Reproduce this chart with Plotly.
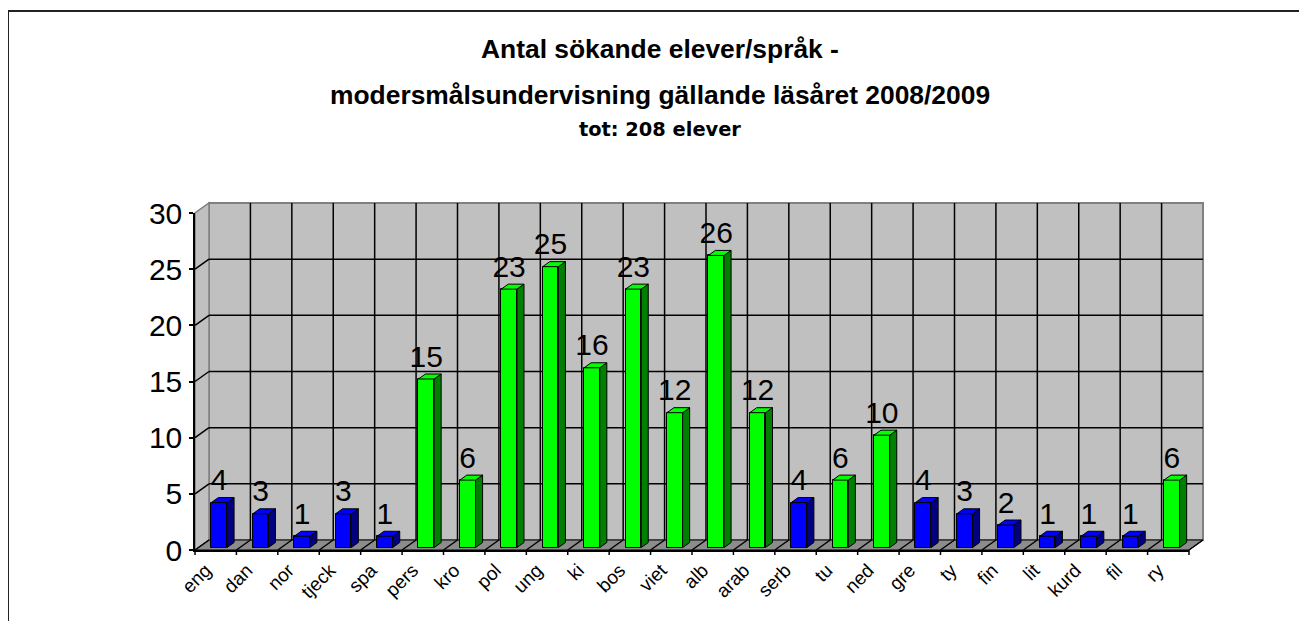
import plotly.graph_objects as go

# ---------------- data ----------------
languages = ["eng", "dan", "nor", "tjeck", "spa", "pers", "kro", "pol", "ung", "ki",
             "bos", "viet", "alb", "arab", "serb", "tu", "ned", "gre", "ty", "fin",
             "lit", "kurd", "fil", "ry"]
students = [4, 3, 1, 3, 1, 15, 6, 23, 25, 16, 23, 12, 26, 12, 4, 6, 10, 4, 3, 2, 1, 1, 1, 6]
groups = ["b", "b", "b", "b", "b", "g", "g", "g", "g", "g", "g", "g", "g", "g",
          "b", "g", "g", "b", "b", "b", "b", "b", "b", "g"]
y_ticks = [0, 5, 10, 15, 20, 25, 30]
title_lines = ["Antal sökande elever/språk -",
               "modersmålsundervisning gällande läsåret 2008/2009",
               "tot: 208 elever"]

# ---------------- geometry (page pixel coords) ----------------
PAGE_OFF = 8                               # body margin of the html page
WF, HF = 1307 - PAGE_OFF, 621 - PAGE_OFF   # figure size
L, R, T, B = 195, 1189, 213, 550           # front axes box (page px)
PW, PH = R - L, B - T
N = len(languages)
YMAX = 30
DXP, DYP = 14, 10                          # 3D depth in pixels
ux = PW / N
uy = PH / YMAX
ddx, ddy = DXP / ux, DYP / uy
BW = 0.38

FACE = {"b": "#0000FF", "g": "#00FF00"}
SIDE = {"b": "#000080", "g": "#008000"}
TOP = {"b": "#0000FF", "g": "#00FF00"}
FONT = "Liberation Sans, Arial"


def px(X):
    return (X - L) / PW


def py(Y):
    return (B - Y) / PH


fig = go.Figure()

f0 = 0.25
for g in ("b", "g"):
    xs = [i for i in range(N) if groups[i] == g]
    ys = [students[i] for i in xs]
    fig.add_trace(go.Bar(
        x=xs, y=ys, base=f0 * ddy, width=BW, offset=-BW / 2 + f0 * ddx,
        marker=dict(color=FACE[g], line=dict(color="black", width=1)),
        hoverinfo="skip", showlegend=False))

h = 0.5
for i, v in enumerate(students):
    g = groups[i]
    x0 = i - BW / 2 + f0 * ddx
    x1 = x0 + BW
    y0 = f0 * ddy
    y1 = y0 + v
    fig.add_trace(go.Scatter(
        x=[x1, x1, x1 + h * ddx, x1 + h * ddx, x1],
        y=[y0, y1, y1 + h * ddy, y0 + h * ddy, y0],
        mode="lines", fill="toself", fillcolor=SIDE[g],
        line=dict(color="black", width=1), hoverinfo="skip", showlegend=False))
    fig.add_trace(go.Scatter(
        x=[x0, x1, x1 + h * ddx, x0 + h * ddx, x0],
        y=[y1, y1, y1 + h * ddy, y1 + h * ddy, y1],
        mode="lines", fill="toself", fillcolor=TOP[g],
        line=dict(color="black", width=1), hoverinfo="skip", showlegend=False))

fig.add_trace(go.Scatter(
    x=[i + f0 * ddx for i in range(N)],
    y=[v + 0.75 * ddy for v in students],
    mode="text", text=[str(v) for v in students], textposition="top center",
    textfont=dict(family=FONT, size=30, color="black"),
    hoverinfo="skip", showlegend=False, cliponaxis=False))

# ---------------- walls, floor, gridlines ----------------
shapes = []
line_gray = "#808080"
wall = "#C0C0C0"


def path(pts):
    return "M " + " L ".join(f"{px(a)},{py(b)}" for a, b in pts) + " Z"


shapes.append(dict(type="rect", xref="paper", yref="paper", layer="below",
                   x0=px(L + DXP), x1=px(R + DXP), y0=py(B - DYP), y1=py(T - DYP),
                   fillcolor=wall, line=dict(color=line_gray, width=2)))
shapes.append(dict(type="path", xref="paper", yref="paper", layer="below",
                   path=path([(L, B), (L, T), (L + DXP, T - DYP), (L + DXP, B - DYP)]),
                   fillcolor=wall, line=dict(color=line_gray, width=1.5)))
shapes.append(dict(type="path", xref="paper", yref="paper", layer="below",
                   path=path([(L, B), (R, B), (R + DXP, B - DYP), (L + DXP, B - DYP)]),
                   fillcolor="#8c8c8c", line=dict(color="black", width=1)))
for v in y_ticks[1:-1]:
    Y = B - v * uy
    shapes.append(dict(type="line", xref="paper", yref="paper", layer="below",
                       x0=px(L + DXP), x1=px(R + DXP), y0=py(Y - DYP), y1=py(Y - DYP),
                       line=dict(color="black", width=1.5)))
    shapes.append(dict(type="line", xref="paper", yref="paper", layer="below",
                       x0=px(L), x1=px(L + DXP), y0=py(Y), y1=py(Y - DYP),
                       line=dict(color="black", width=1.5)))
for k in range(N + 1):
    X = L + k * ux
    if 0 < k < N:
        shapes.append(dict(type="line", xref="paper", yref="paper", layer="below",
                           x0=px(X + DXP), x1=px(X + DXP), y0=py(B - DYP), y1=py(T - DYP),
                           line=dict(color="black", width=1.5)))
    shapes.append(dict(type="line", xref="paper", yref="paper", layer="below",
                       x0=px(X), x1=px(X + DXP), y0=py(B), y1=py(B - DYP),
                       line=dict(color="black", width=1.5)))
    shapes.append(dict(type="line", xref="paper", yref="paper", layer="above",
                       x0=px(X), x1=px(X), y0=py(B), y1=py(B + 5),
                       line=dict(color="black", width=1.5)))
# outer frame
shapes.append(dict(type="rect", xref="paper", yref="paper", layer="above",
                   x0=px(8), x1=px(1340), y0=py(11), y1=py(660),
                   fillcolor="rgba(0,0,0,0)", line=dict(color="#222222", width=2)))

# ---------------- title ----------------
annotations = []
title_specs = [(title_lines[0], FONT, 26.4, 49),
               (title_lines[1], FONT, 26.4, 95),
               (title_lines[2], "DejaVu Sans", 19.4, 129)]
for txt, fam, size, yc in title_specs:
    annotations.append(dict(text="<b>" + txt + "</b>", xref="paper", yref="paper",
                            x=px(660), y=py(yc), xanchor="center", yanchor="middle",
                            showarrow=False,
                            font=dict(family=fam, size=size, color="black")))

fig.update_layout(
    width=WF, height=HF,
    margin=dict(l=L - PAGE_OFF, r=WF - (R - PAGE_OFF), t=T - PAGE_OFF,
                b=HF - (B - PAGE_OFF), pad=0),
    paper_bgcolor="white", plot_bgcolor="rgba(0,0,0,0)",
    shapes=shapes, annotations=annotations,
    bargap=0,
    xaxis=dict(range=[-0.5, N - 0.5], tickmode="array",
               tickvals=list(range(N)), ticktext=languages,
               tickangle=-45, ticks="", ticklabelshift=-10, ticklabelstandoff=0,
               tickfont=dict(family=FONT, size=19, color="black"),
               showline=True, linecolor="black", linewidth=1.5,
               showgrid=False, zeroline=False, fixedrange=True),
    yaxis=dict(range=[0, YMAX], tickmode="array", tickvals=y_ticks,
               ticks="outside", ticklen=4, tickcolor="black", tickwidth=1.5,
               showline=True, linecolor="black", linewidth=1.5,
               showgrid=False, zeroline=False, ticklabelstandoff=1,
               tickfont=dict(family=FONT, size=30, color="black")),
)

fig.write_html("out.html")
